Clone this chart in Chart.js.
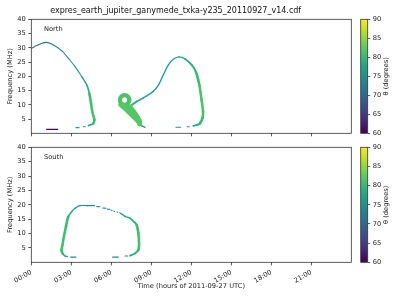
<!DOCTYPE html>
<html>
<head>
<meta charset="utf-8">
<script src="https://cdn.jsdelivr.net/npm/chart.js@4.4.0/dist/chart.umd.min.js"></script>
<style>
  body { margin: 0; background: #fff; width: 400px; height: 300px; overflow: hidden; position: relative; }
  canvas { position: absolute; }
</style>
</head>
<body>
<canvas id="north" width="382" height="140" style="left:0;top:0"></canvas>
<canvas id="south" width="382" height="160" style="left:0;top:140px"></canvas>
<canvas id="cbNorth" width="45" height="140" style="left:355px;top:0"></canvas>
<canvas id="cbSouth" width="45" height="160" style="left:355px;top:140px"></canvas>
<script>
// Ticks
const timeTicks = [0, 3, 6, 9, 12, 15, 18, 21];
const freqTicks = [5, 10, 15, 20, 25, 30, 35, 40];
const thetaTicks = [60, 65, 70, 75, 80, 85, 90];

// North: left arc (time h, frequency MHz, theta deg), null = gap
const nArcT = [0.00, 0.45, 1.10, 1.65, 2.28, 2.78, 3.28, 3.78, 4.16, 4.35, 4.48, 4.60, 4.73, 4.65, 4.28, 4.20, 4.05, 3.90, 3.75, 3.58, 3.35];
const nArcF = [29.8, 30.9, 31.9, 31.0, 29.0, 26.3, 23.4, 19.9, 17.0, 14.0, 10.5, 7.0, 4.7, 3.5, 2.7, null, 2.3, 2.3, null, 2.0, 2.0];
const nArcA = [72, 72, 72, 73, 73, 74, 75, 76, 78, 80, 81, 81, 81, 80, 78, 77, 76, 76, 75, 75, 75];

// North: low purple streak
const nLowT = [1.15, 1.98];
const nLowF = [1.4, 1.4];
const nLowA = [61, 61];

// North: small loop
const nLoopT = [7.36, 7.25, 7.00, 6.75, 6.64, 6.75, 7.00, 7.25, 7.36];
const nLoopF = [11.7, 12.9, 13.4, 12.9, 11.7, 10.5, 10.0, 10.5, 11.7];
const nLoopA = [81.5, 81.5, 81.5, 81.5, 81.5, 81.5, 81.5, 81.5, 81.5];

// North: dense strands under the loop
const nBlob1T = [6.69, 7.44, 8.04, 8.12];
const nBlob1F = [10.1, 6.8, 4.0, 3.3];
const nBlob2T = [7.03, 7.63, 8.08, 8.12];
const nBlob2F = [9.6, 6.8, 4.1, 3.3];
const nBlob3T = [7.38, 7.82, 8.13, 8.12];
const nBlob3F = [9.4, 6.8, 4.3, 3.3];
const nBlobA = [82, 82, 82, 82];
const nTailT = [8.12, 8.30, 8.53];
const nTailF = [3.3, 2.6, 2.1];
const nTailA = [80, 77, 76];

// North: big arc
const nBigT = [7.53, 7.93, 8.40, 9.15, 9.53, 9.90, 10.28, 10.65, 11.08, 11.53, 12.03, 12.35, 12.60, 12.77, 12.88, 12.84, 12.65, 12.40, 12.15, 12.00, 11.85, 11.70, 11.45, 11.20, 10.85];
const nBigF = [10.0, 11.2, 12.4, 14.7, 16.9, 20.5, 24.0, 26.0, 26.8, 26.1, 24.0, 21.5, 17.0, 11.7, 7.5, 5.4, 3.5, 2.9, 2.6, null, 2.3, 2.3, null, 2.1, 2.1];
const nBigA = [80, 79, 78, 77, 77, 77, 77, 77, 77, 78, 79, 80, 81, 81.5, 81.5, 81, 80, 79, 77, 75, 75, 75, 75, 75, 75];

// South: single arc
const sArcT = [3.35, 2.95, 2.85, 2.70, 2.53, 2.34, 2.27, 2.34, 2.40, 2.60, 2.78, 3.03, 3.28, 3.65, 4.20, 4.75, 4.80, 4.90, 5.15, 5.25, 5.35, 5.60, 5.65, 5.70, 5.90, 5.95, 6.00, 6.05, 6.10, 6.18, 6.23, 6.30, 6.43, 6.48, 6.55, 6.63, 6.78, 7.03, 7.40, 7.70, 7.90, 8.03, 8.08, 8.03, 7.78, 7.40, 7.32, 7.23, 7.03, 6.80, 6.53, 6.10];
const sArcF = [1.8, 1.8, null, 2.0, 2.2, 3.1, 4.3, 6.0, 7.8, 12.4, 15.9, 17.6, 18.8, 19.7, 19.7, 19.7, null, 19.4, 19.3, null, 18.9, 18.8, null, 18.5, 18.4, null, 18.1, 18.0, null, 17.8, 17.7, null, 17.5, 17.4, null, 17.2, 16.8, 16.0, 15.3, 14.1, 13.0, 10.1, 6.6, 4.3, 3.1, 2.3, null, 2.2, 2.2, null, 1.8, 1.8];
const sArcA = [74, 74, 75, 76, 78, 80, 81, 81, 81, 81, 80, 78, 77, 76, 75, 75, 75, 75, 75, 75, 75, 75, 75, 75, 75, 75, 75, 75, 75, 75, 75, 75, 75, 75, 75, 76, 76, 77, 78, 79, 80, 81, 81, 81, 79, 77, 75, 75, 75, 74, 74, 74];

// viridis colormap
const viridisStops = ['#440154', '#482475', '#414487', '#355f8d', '#2a788e', '#21918c', '#22a884', '#44bf70', '#7ad151', '#bddf26', '#fde725'];

function hexRgb(h) {
    return [parseInt(h.slice(1, 3), 16), parseInt(h.slice(3, 5), 16), parseInt(h.slice(5, 7), 16)];
}

function thetaColor(a) {
    const t = Math.min(1, Math.max(0, (a - 60) / 30)) * 10;
    const i = Math.min(9, Math.floor(t));
    const f = t - i;
    const c0 = hexRgb(viridisStops[i]);
    const c1 = hexRgb(viridisStops[i + 1]);
    const c = c0.map((v, k) => Math.round(v + (c1[k] - v) * f));
    return 'rgb(' + c.join(',') + ')';
}

// greener parts of the track are drawn wider
function widthFor(a) {
    if (a >= 80.5) return 2.6;
    if (a >= 79.5) return 2.1;
    if (a >= 78) return 1.7;
    if (a >= 76.5) return 1.4;
    return 1.1;
}

function curve(t, f, a, w) {
    const mid = c => (a[c.p0DataIndex] + a[c.p1DataIndex]) / 2;
    return {
        data: t.map((x, i) => ({x: x, y: f[i]})),
        showLine: true,
        tension: 0.4,
        pointRadius: 0,
        pointHoverRadius: 0,
        borderCapStyle: 'round',
        borderJoinStyle: 'round',
        borderColor: thetaColor(a[0]),
        borderWidth: w || widthFor(a[0]),
        segment: {
            borderColor: c => thetaColor(mid(c)),
            borderWidth: c => w || widthFor(mid(c))
        }
    };
}

Chart.defaults.font.family = 'DejaVu Sans';
Chart.defaults.font.size = 6.7;
Chart.defaults.color = '#222';

const frame = {
    id: 'frame',
    afterDraw(chart) {
        const a = chart.chartArea, c = chart.ctx;
        c.save();
        c.strokeStyle = '#333';
        c.lineWidth = 0.8;
        c.strokeRect(a.left, a.top, a.right - a.left, a.bottom - a.top);
        c.restore();
    }
};

const panelLabel = {
    id: 'panelLabel',
    afterDatasetsDraw(chart, args, opts) {
        if (!opts.text) return;
        const a = chart.chartArea, c = chart.ctx;
        c.save();
        c.font = '6.7px "DejaVu Sans"';
        c.fillStyle = '#222';
        c.textAlign = 'left';
        c.textBaseline = 'middle';
        c.fillText(opts.text, a.left + 12.7, a.top + 10);
        c.restore();
    }
};

const cbLabel = {
    id: 'cbLabel',
    afterDraw(chart, args, opts) {
        const a = chart.chartArea, c = chart.ctx;
        c.save();
        c.translate(a.right + 19, (a.top + a.bottom) / 2);
        c.rotate(-Math.PI / 2);
        c.font = '6.7px "DejaVu Sans"';
        c.fillStyle = '#222';
        c.textAlign = 'center';
        c.textBaseline = 'middle';
        c.fillText(opts.text, 0, 0);
        c.restore();
    }
};

const axisGrid = {drawOnChartArea: false, drawTicks: true, tickLength: 3, color: '#333', lineWidth: 0.8};

function panel(id, title, label, datasets, bottom) {
    return new Chart(document.getElementById(id), {
        type: 'scatter',
        data: {datasets: datasets},
        options: {
            responsive: false,
            animation: false,
            events: [],
            devicePixelRatio: 1,
            layout: {padding: {left: 0, right: 30.7, top: bottom ? 7.3 : 0, bottom: 0}},
            plugins: {
                legend: {display: false},
                tooltip: {enabled: false},
                title: {
                    display: !!title, text: title, color: '#111',
                    font: {size: 8, weight: 'normal'},
                    padding: {top: 6.2, bottom: 3.5}
                },
                panelLabel: {text: label}
            },
            scales: {
                x: {
                    type: 'linear', min: 0, max: 24,
                    afterBuildTicks: s => { s.ticks = timeTicks.map(v => ({value: v})); },
                    ticks: {
                        display: bottom, autoSkip: false, minRotation: 30, maxRotation: 30, padding: 3,
                        callback: v => String(v).padStart(2, '0') + ':00'
                    },
                    grid: axisGrid,
                    border: {display: false},
                    title: {display: bottom, text: 'Time (hours of 2011-09-27 UTC)', padding: {top: 0, bottom: 10}},
                    afterFit: s => { s.height = bottom ? 37.7 : 6.7; }
                },
                y: {
                    type: 'linear', min: 0, max: 40,
                    afterBuildTicks: s => { s.ticks = freqTicks.map(v => ({value: v})); },
                    ticks: {padding: 2.5},
                    grid: axisGrid,
                    border: {display: false},
                    title: {display: true, text: 'Frequency (MHz)', padding: {top: 6.3, bottom: 0}},
                    afterFit: s => { s.width = 31.3; }
                }
            }
        },
        plugins: [frame, panelLabel]
    });
}

function gradientFill(ctx) {
    const a = ctx.chart.chartArea;
    if (!a) return '#21918c';
    const g = ctx.chart.ctx.createLinearGradient(0, a.bottom, 0, a.top);
    viridisStops.forEach((col, k) => g.addColorStop(k / 10, col));
    return g;
}

function colorbar(id, top, bottom) {
    return new Chart(document.getElementById(id), {
        type: 'bar',
        data: {
            labels: [''],
            datasets: [{data: [[60, 90]], backgroundColor: gradientFill, borderWidth: 0, barPercentage: 1, categoryPercentage: 1}]
        },
        options: {
            responsive: false,
            animation: false,
            events: [],
            devicePixelRatio: 1,
            layout: {padding: {left: 5.7, right: 0, top: top, bottom: bottom}},
            plugins: {
                legend: {display: false},
                tooltip: {enabled: false},
                cbLabel: {text: 'θ (degrees)'}
            },
            scales: {
                x: {display: false},
                y: {
                    position: 'right', min: 60, max: 90,
                    afterBuildTicks: s => { s.ticks = thetaTicks.map(v => ({value: v})); },
                    ticks: {padding: 2.5},
                    grid: {drawOnChartArea: false, drawTicks: true, tickLength: 2.5, color: '#333', lineWidth: 0.8},
                    border: {display: false},
                    afterFit: s => { s.width = 32.3; }
                }
            }
        },
        plugins: [frame, cbLabel]
    });
}

panel('north', 'expres_earth_jupiter_ganymede_txka-y235_20110927_v14.cdf', 'North', [
    curve(nLowT, nLowF, nLowA, 1.3),
    curve(nArcT, nArcF, nArcA),
    curve(nBlob1T, nBlob1F, nBlobA, 4.5),
    curve(nBlob2T, nBlob2F, nBlobA, 4.5),
    curve(nBlob3T, nBlob3F, nBlobA, 4.5),
    curve(nTailT, nTailF, nTailA),
    curve(nLoopT, nLoopF, nLoopA, 4.2),
    curve(nBigT, nBigF, nBigA)
], false);

panel('south', '', 'South', [
    curve(sArcT, sArcF, sArcA)
], true);

colorbar('cbNorth', 19.3, 6.7);
colorbar('cbSouth', 7.3, 37.7);
</script>
</body>
</html>
